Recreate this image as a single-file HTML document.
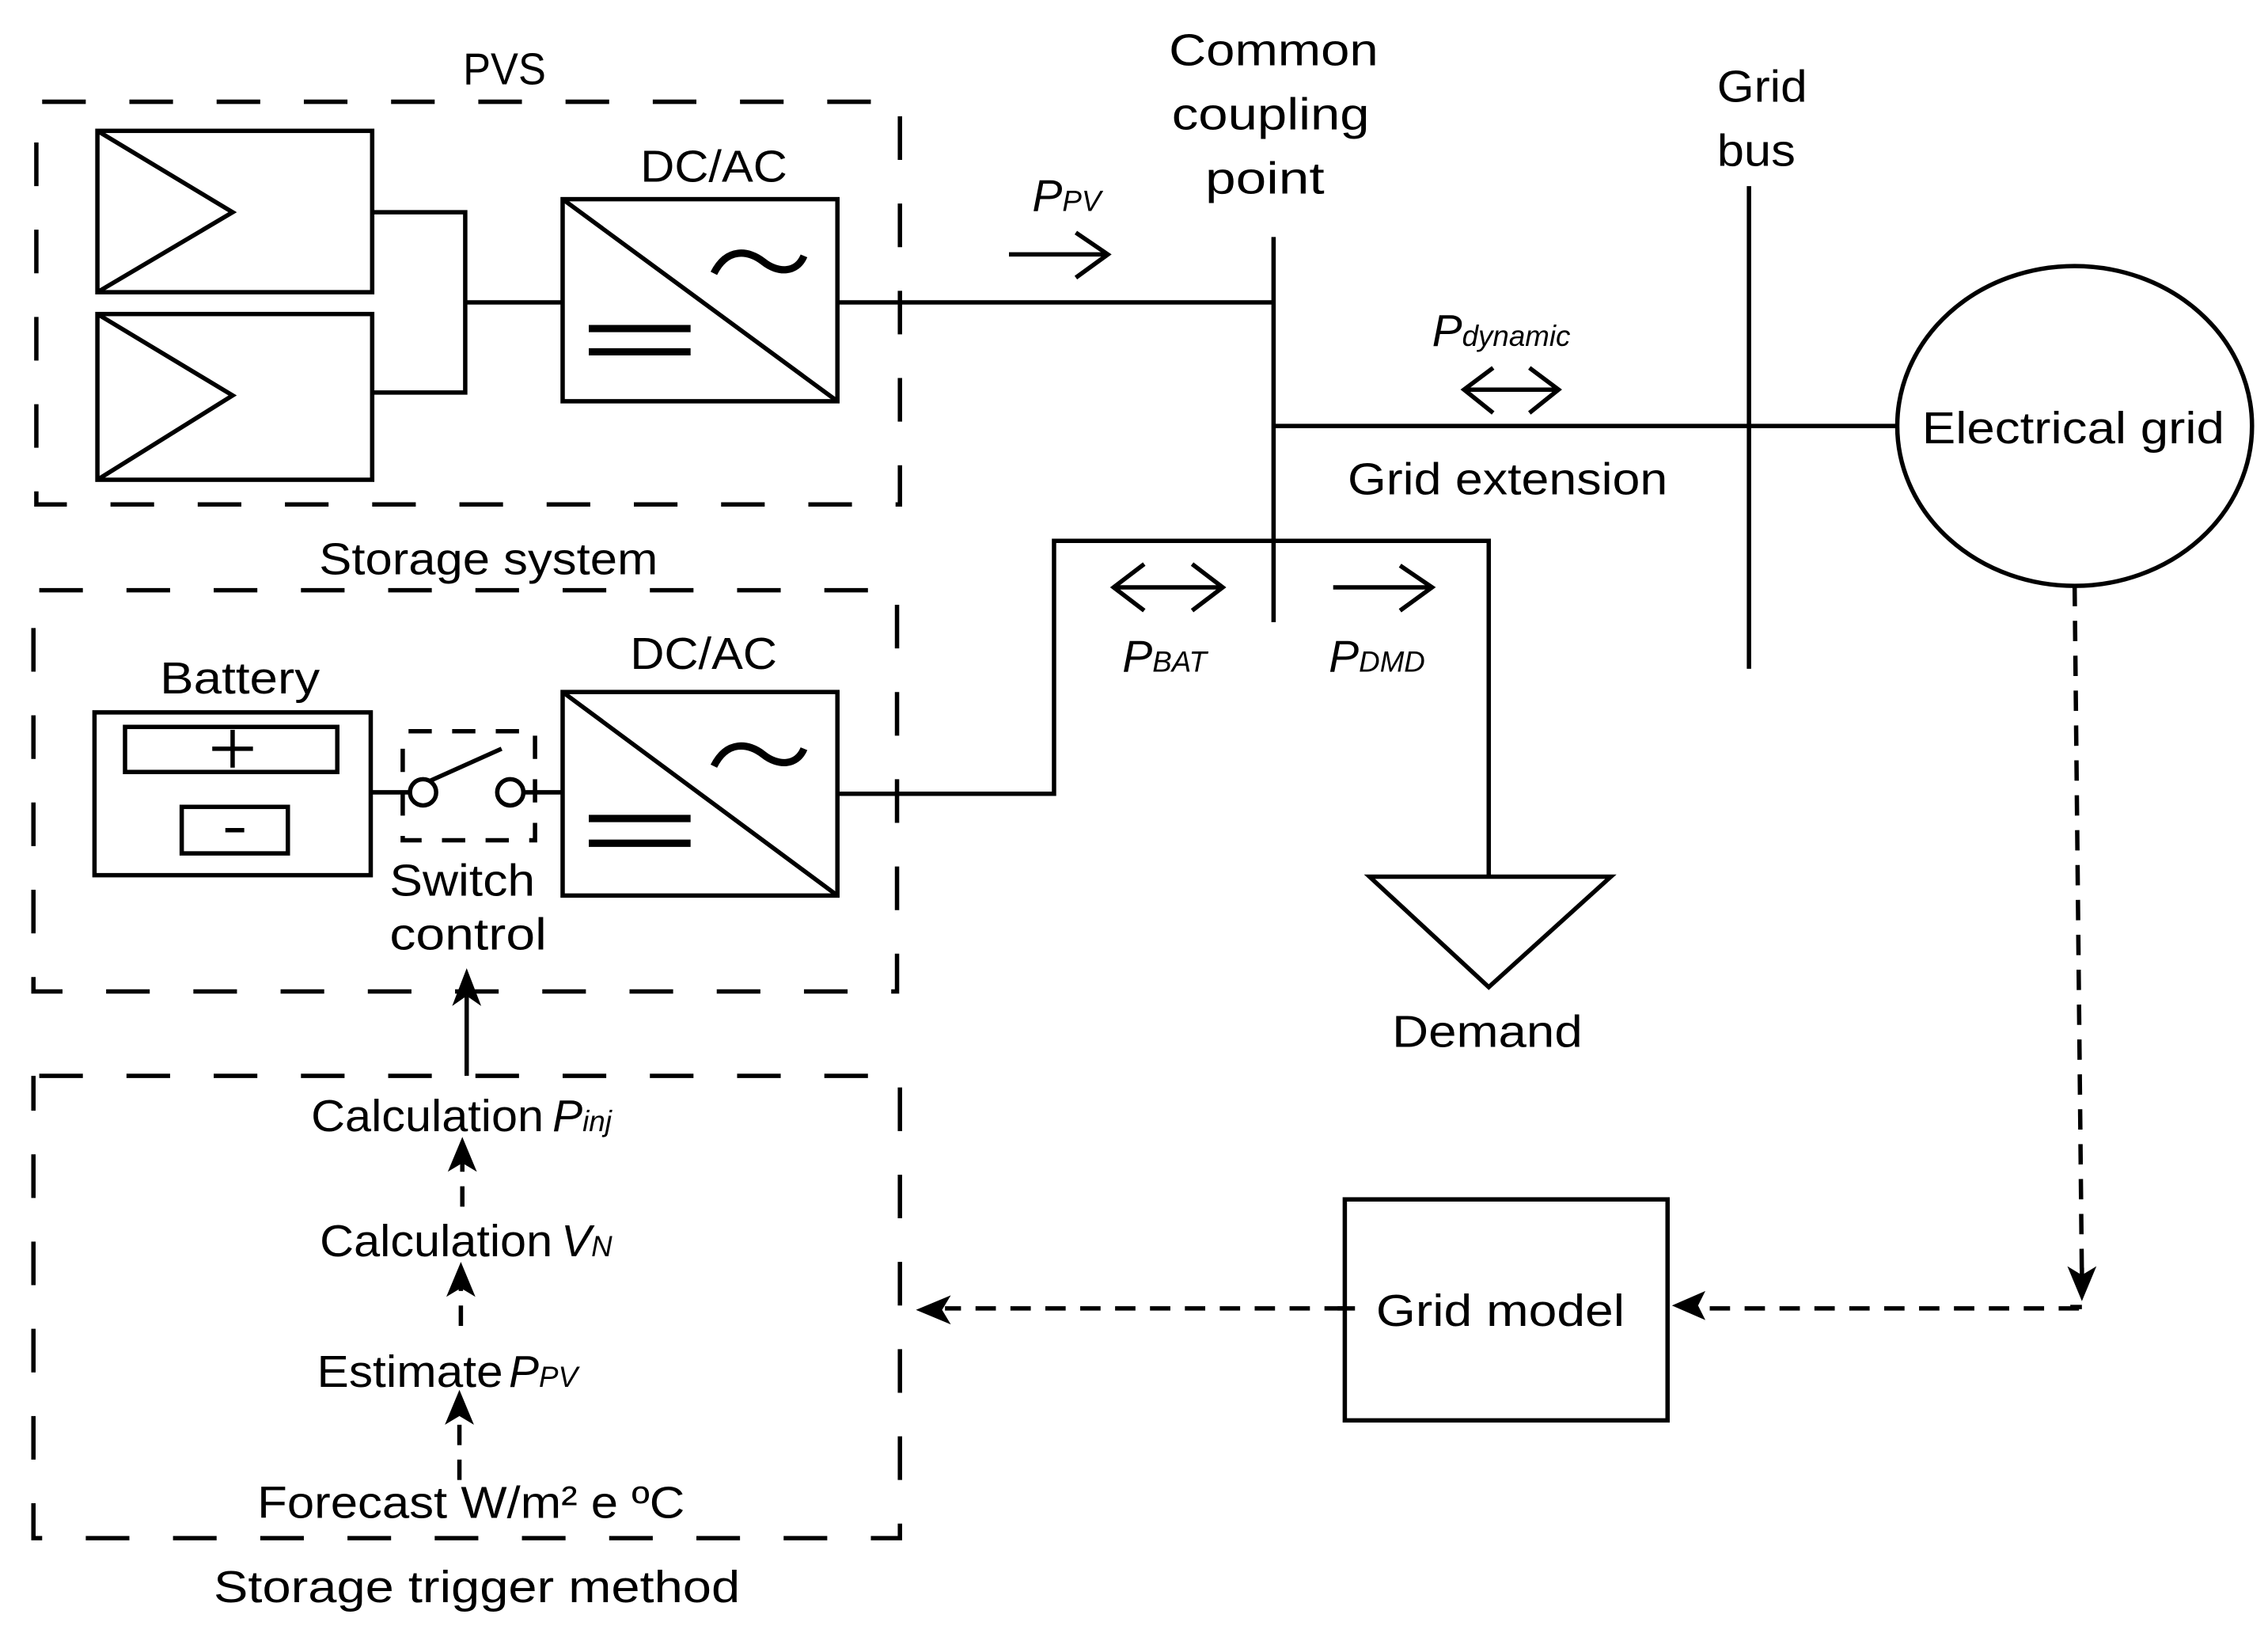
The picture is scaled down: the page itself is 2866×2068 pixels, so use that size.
<!DOCTYPE html>
<html><head><meta charset="utf-8"><style>
html,body{margin:0;padding:0;background:#fff;}
svg{display:block;}
text{font-family:"Liberation Sans",sans-serif;fill:#000;}
</style></head><body>
<svg width="2866" height="2068" viewBox="0 0 1560 1126" preserveAspectRatio="none" xmlns="http://www.w3.org/2000/svg">
<g fill="none" stroke="#000" stroke-width="3">
<!-- dashed boxes -->
<g stroke-dasharray="30 30" stroke-dashoffset="-4">
<rect x="25" y="70" width="594" height="277"/>
<rect x="23" y="406" width="594" height="276"/>
<rect x="23" y="740" width="596" height="318"/>
<rect x="277" y="503" width="91" height="75" stroke-dasharray="16 14"/>
</g>
<!-- PV panels -->
<rect x="67" y="90" width="189" height="111"/>
<polyline points="67,90 160,146 67,201"/>
<rect x="67" y="216" width="189" height="114"/>
<polyline points="67,216 160,272 67,330"/>
<polyline points="256,146 320,146 320,270 256,270"/>
<line x1="320" y1="208" x2="387" y2="208"/>
<!-- DC/AC 1 -->
<rect x="387" y="137" width="189" height="139"/>
<line x1="387" y1="137" x2="576" y2="276"/>
<line x1="405" y1="226" x2="475" y2="226" stroke-width="5"/>
<line x1="405" y1="242" x2="475" y2="242" stroke-width="5"/>
<path d="M491,188 C500,170 515,172 525,180 C535,188 548,188 553,176" stroke-width="5"/>
<line x1="576" y1="208" x2="876" y2="208"/>
<!-- DC/AC 2 -->
<rect x="387" y="476" width="189" height="140"/>
<line x1="387" y1="476" x2="576" y2="616"/>
<line x1="405" y1="563" x2="475" y2="563" stroke-width="5"/>
<line x1="405" y1="580" x2="475" y2="580" stroke-width="5"/>
<path d="M491,527 C500,509 515,511 525,519 C535,527 548,527 553,515" stroke-width="5"/>
<!-- battery -->
<rect x="65" y="490" width="190" height="112"/>
<rect x="86" y="500" width="146" height="31"/>
<rect x="125" y="555" width="73" height="32"/>
<line x1="146" y1="515" x2="174" y2="515"/>
<line x1="160" y1="502" x2="160" y2="528"/>
<line x1="155" y1="571" x2="168" y2="571"/>
<!-- switch -->
<line x1="255" y1="545" x2="282" y2="545"/>
<circle cx="291" cy="545" r="9"/>
<circle cx="351" cy="545" r="9"/>
<line x1="296" y1="537" x2="345" y2="515"/>
<line x1="360" y1="545" x2="387" y2="545"/>
<!-- buses -->
<line x1="876" y1="163" x2="876" y2="428"/>
<line x1="1203" y1="128" x2="1203" y2="460"/>
<line x1="876" y1="293" x2="1305" y2="293"/>
<ellipse cx="1427" cy="293" rx="122" ry="110"/>
<polyline points="576,546 725,546 725,372 1024,372 1024,603"/>
<polygon points="942,603 1108,603 1024,679"/>
<!-- power arrows -->
<line x1="694" y1="175" x2="762" y2="175"/>
<polyline points="740,160 762,175 740,191"/>
<line x1="1007" y1="268" x2="1072" y2="268"/>
<polyline points="1027,253 1007,268 1027,284"/>
<polyline points="1052,253 1072,268 1052,284"/>
<line x1="766" y1="404" x2="841" y2="404"/>
<polyline points="787,388 766,404 787,420"/>
<polyline points="820,388 841,404 820,420"/>
<line x1="917" y1="404" x2="985" y2="404"/>
<polyline points="963,389 985,404 963,420"/>
<!-- grid model -->
<rect x="925" y="825" width="222" height="152"/>
<!-- control arrows -->
<line x1="321" y1="740" x2="321" y2="685"/>
<g stroke-dasharray="14 10">
<line x1="318" y1="830" x2="318" y2="800"/>
<line x1="317" y1="912" x2="317" y2="885"/>
<line x1="316" y1="1018" x2="316" y2="975"/>
<line x1="1427" y1="403" x2="1432" y2="880"/>
<line x1="1430" y1="900" x2="1165" y2="900"/>
<line x1="925" y1="900" x2="650" y2="900"/>
</g>
<line x1="1432" y1="884" x2="1432" y2="872"/>
<line x1="1432" y1="899" x2="1424" y2="899"/>
<line x1="920" y1="900" x2="932" y2="900"/>
</g>
<g fill="#000" stroke="none">
<path d="M321,666 L331,692 L321,685 L311,692 Z"/>
<path d="M318,782 L328,806 L318,800 L308,806 Z"/>
<path d="M317,868 L327,892 L317,886 L307,892 Z"/>
<path d="M316,956 L326,980 L316,974 L306,980 Z"/>
<path d="M1432,895 L1422,871 L1432,877 L1442,871 Z"/>
<path d="M1150,898 L1173,888 L1168,898 L1173,908 Z"/>
<path d="M630,901 L654,891 L648,901 L654,911 Z"/>
</g>
<g font-size="31">
<text x="347" y="58" text-anchor="middle" textLength="57" lengthAdjust="spacingAndGlyphs">PVS</text>
<text x="491" y="125" text-anchor="middle" textLength="101" lengthAdjust="spacingAndGlyphs">DC/AC</text>
<text x="484" y="460" text-anchor="middle" textLength="101" lengthAdjust="spacingAndGlyphs">DC/AC</text>
<text x="876" y="45" text-anchor="middle" textLength="144" lengthAdjust="spacingAndGlyphs">Common</text>
<text x="874" y="89" text-anchor="middle" textLength="136" lengthAdjust="spacingAndGlyphs">coupling</text>
<text x="870" y="133" text-anchor="middle" textLength="82" lengthAdjust="spacingAndGlyphs">point</text>
<text x="1212" y="70" text-anchor="middle" textLength="62" lengthAdjust="spacingAndGlyphs">Grid</text>
<text x="1208" y="114" text-anchor="middle" textLength="54" lengthAdjust="spacingAndGlyphs">bus</text>
<text x="1426" y="305" text-anchor="middle" textLength="208" lengthAdjust="spacingAndGlyphs">Electrical grid</text>
<text x="1037" y="340" text-anchor="middle" textLength="220" lengthAdjust="spacingAndGlyphs">Grid extension</text>
<text x="336" y="395" text-anchor="middle" textLength="233" lengthAdjust="spacingAndGlyphs">Storage system</text>
<text x="165" y="477" text-anchor="middle" textLength="110" lengthAdjust="spacingAndGlyphs">Battery</text>
<text x="318" y="616" text-anchor="middle" textLength="100" lengthAdjust="spacingAndGlyphs">Switch</text>
<text x="322" y="653" text-anchor="middle" textLength="108" lengthAdjust="spacingAndGlyphs">control</text>
<text x="1023" y="720" text-anchor="middle" textLength="131" lengthAdjust="spacingAndGlyphs">Demand</text>
<text x="1032" y="912" text-anchor="middle" textLength="171" lengthAdjust="spacingAndGlyphs">Grid model</text>
<text x="328" y="1102" text-anchor="middle" textLength="362" lengthAdjust="spacingAndGlyphs">Storage trigger method</text>
<text x="214" y="778" textLength="160" lengthAdjust="spacingAndGlyphs">Calculation</text>
<text x="220" y="864" textLength="160" lengthAdjust="spacingAndGlyphs">Calculation</text>
<text x="218" y="954" textLength="128" lengthAdjust="spacingAndGlyphs">Estimate</text>
<text x="177" y="1044" textLength="294" lengthAdjust="spacingAndGlyphs">Forecast W/m² e ºC</text>
</g>
<g font-style="italic">
<text x="380" y="778" font-size="31">P<tspan font-size="20">inj</tspan></text>
<text x="386" y="864" font-size="31">V<tspan font-size="20">N</tspan></text>
<text x="350" y="954" font-size="31">P<tspan font-size="20">PV</tspan></text>
<text x="710" y="145" font-size="31">P<tspan font-size="20">PV</tspan></text>
<text x="985" y="238" font-size="31">P<tspan font-size="20">dynamic</tspan></text>
<text x="772" y="462" font-size="31">P<tspan font-size="20">BAT</tspan></text>
<text x="914" y="462" font-size="31">P<tspan font-size="20">DMD</tspan></text>
</g>
</svg>
</body></html>
